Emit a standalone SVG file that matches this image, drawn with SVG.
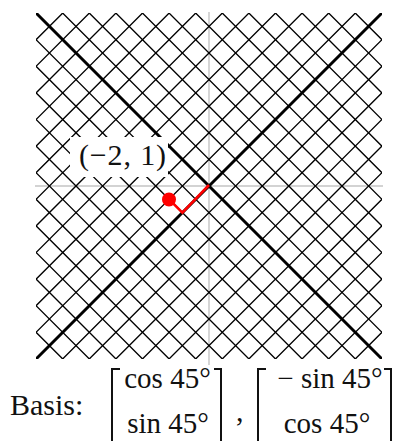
<svg xmlns="http://www.w3.org/2000/svg" width="400" height="441" viewBox="0 0 400 441">
  <style>
    .grid { stroke: #000; stroke-width: 1.35; fill: none; }
    .axis { stroke: #000; stroke-width: 3; fill: none; }
    .ref { stroke: #c4c4c4; stroke-width: 1.4; fill: none; }
    .vec { stroke: #ff0000; stroke-width: 2.6; fill: none; stroke-linejoin: miter; }
    .t { font-family: "Liberation Serif", "DejaVu Serif", serif; fill: #111; }
    .br { stroke: #111; stroke-width: 2; fill: none; }
  </style>
  <defs>
    <clipPath id="sq">
      <rect x="36" y="13" width="346" height="346"/>
    </clipPath>
  </defs>
  <rect width="400" height="441" fill="#fff"/>

  <g id="reference-axes">
    <line class="ref" x1="209" y1="12" x2="209" y2="365"/>
    <line class="ref" x1="35" y1="186" x2="383" y2="186"/>
  </g>

  <g id="lattice" clip-path="url(#sq)">
    <g transform="translate(209,186) rotate(45)">
      <path class="grid" d="M-244.52,-260V260M-225.71,-260V260M-206.9,-260V260M-188.09,-260V260M-169.28,-260V260M-150.47,-260V260M-131.66,-260V260M-112.85,-260V260M-94.05,-260V260M-75.24,-260V260M-56.43,-260V260M-37.62,-260V260M-18.81,-260V260M18.81,-260V260M37.62,-260V260M56.43,-260V260M75.24,-260V260M94.05,-260V260M112.85,-260V260M131.66,-260V260M150.47,-260V260M169.28,-260V260M188.09,-260V260M206.9,-260V260M225.71,-260V260M244.52,-260V260"/>
      <path class="grid" d="M-260,-244.52H260M-260,-225.71H260M-260,-206.9H260M-260,-188.09H260M-260,-169.28H260M-260,-150.47H260M-260,-131.66H260M-260,-112.85H260M-260,-94.05H260M-260,-75.24H260M-260,-56.43H260M-260,-37.62H260M-260,-18.81H260M-260,18.81H260M-260,37.62H260M-260,56.43H260M-260,75.24H260M-260,94.05H260M-260,112.85H260M-260,131.66H260M-260,150.47H260M-260,169.28H260M-260,188.09H260M-260,206.9H260M-260,225.71H260M-260,244.52H260"/>
    </g>
  </g>

  <g id="basis-axes" clip-path="url(#sq)">
    <line class="axis" x1="36" y1="13" x2="382" y2="359"/>
    <line class="axis" x1="382" y1="13" x2="36" y2="359"/>
  </g>

  <g id="connectors">
    <polyline class="vec" points="209,185 182.4,212.6 169.1,199.3"/>
  </g>

  <g id="point">
    <circle cx="169" cy="199.5" r="7" fill="#ff0000"/>
  </g>

  <g id="label">
    <rect x="70" y="137" width="98" height="40" fill="#fff"/>
    <text class="t" x="79" y="165" font-size="30" textLength="87" lengthAdjust="spacing">(−2, 1)</text>
  </g>

  <g id="basis">
    <text class="t" x="10" y="415" font-size="30">Basis:</text>
    <path class="br" d="M120,369H112V441"/>
    <path class="br" d="M214,369H221V441"/>
    <text class="t" x="167.5" y="388" font-size="29" text-anchor="middle">cos 45°</text>
    <text class="t" x="168" y="433" font-size="29" text-anchor="middle">sin 45°</text>
    <text class="t" x="236" y="421" font-size="30">,</text>
    <path class="br" d="M266,369H258V441"/>
    <path class="br" d="M384,369H391V441"/>
    <text class="t" x="330" y="388" font-size="29" text-anchor="middle">− sin 45°</text>
    <text class="t" x="327" y="433" font-size="29" text-anchor="middle">cos 45°</text>
  </g>
</svg>
